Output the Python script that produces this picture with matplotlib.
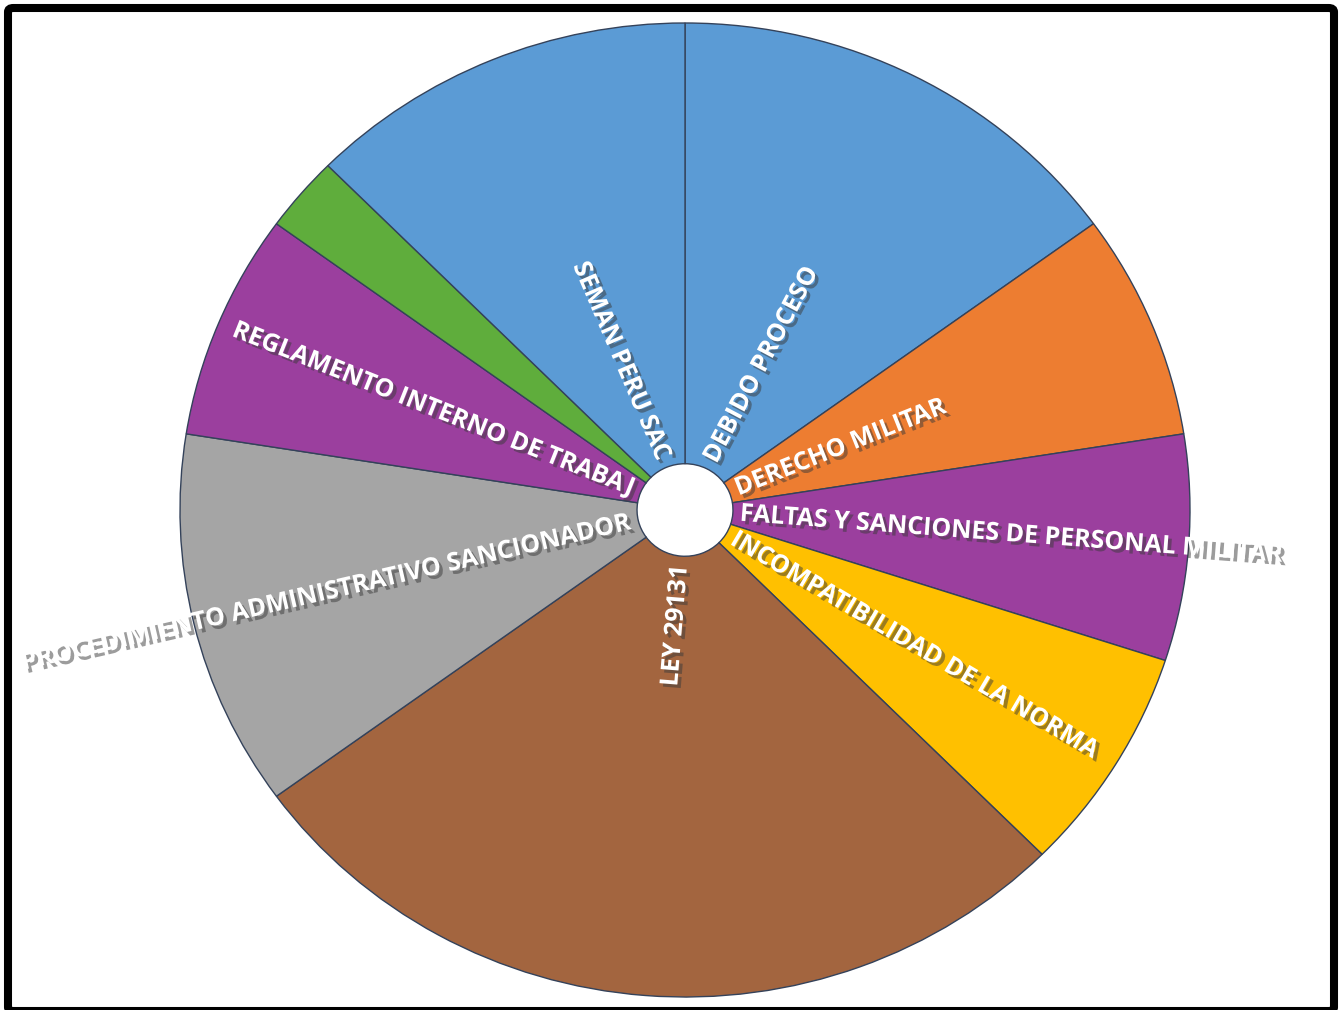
import numpy as np
import matplotlib
matplotlib.use("Agg")
import matplotlib.pyplot as plt
import matplotlib.patheffects as pe
from matplotlib.patches import FancyBboxPatch

# Temas y número de casos
TEMAS = ['DEBIDO PROCESO', 'DERECHO MILITAR',
         'FALTAS Y SANCIONES DE PERSONAL MILITAR',
         'INCOMPATIBILIDAD DE LA NORMA', 'LEY 29131',
         'PROCEDIMIENTO ADMINISTRATIVO SANCIONADOR',
         'REGLAMENTO INTERNO DE TRABAJ', '', 'SEMAN PERU SAC']
CASOS = [6, 3, 3, 3, 11, 5, 3, 1, 5]
COLORES = ['#5B9BD5', '#ED7D31', '#9B3F9E', '#FFC000', '#A3653F',
           '#A5A5A5', '#9B3F9E', '#5FAD3C', '#5B9BD5']

W, H = 1341, 1010
CX, CY = 685, 510          # centro en píxeles (desde arriba)
RX, RY = 505, 487          # radios horizontal / vertical en píxeles
HUECO = 0.095              # radio del agujero central
R_TEXTO = 55               # inicio de las etiquetas, px

fig = plt.figure(figsize=(W / 100, H / 100), dpi=100)
ax = fig.add_axes([0, 0, 1, 1])

wedges, _ = ax.pie(CASOS, colors=COLORES, startangle=90, counterclock=False,
                   wedgeprops=dict(width=1 - HUECO, edgecolor='#34425A',
                                   linewidth=1.0))
ax.set_aspect('auto')
ax.set_xlim(-CX / RX, (W - CX) / RX)
ax.set_ylim(-(H - CY) / RY, CY / RY)
ax.axis('off')

sombra = [pe.withSimplePatchShadow(offset=(2.5, -2.5), shadow_rgbFace='#3A3A3A',
                                   alpha=0.5)]

for w, tema in zip(wedges, TEMAS):
    if not tema:
        continue
    theta = np.deg2rad((w.theta1 + w.theta2) / 2)
    phi = np.arctan2(RY * np.sin(theta), RX * np.cos(theta))
    x = R_TEXTO * np.cos(phi) / RX
    y = R_TEXTO * np.sin(phi) / RY
    deg = np.rad2deg(phi)
    if np.cos(phi) >= 0:
        rot, ha = deg, 'left'
    else:
        rot, ha = deg + 180, 'right'
    ax.text(x, y, tema, rotation=rot, rotation_mode='anchor', ha=ha,
            va='center', color='white', fontsize=18, fontweight='bold',
            family='Open Sans', path_effects=sombra, zorder=5)

# Marco negro alrededor de la figura (el borde inferior queda cortado)
marco = FancyBboxPatch((8 / W, -1 / H), (1334 - 8) / W, (1003) / H,
                       boxstyle='round,pad=0,rounding_size=0.004',
                       transform=fig.transFigure, fill=False,
                       edgecolor='black', linewidth=5.8)
fig.patches.append(marco)

fig.savefig('out.png', dpi=100, facecolor='white')
